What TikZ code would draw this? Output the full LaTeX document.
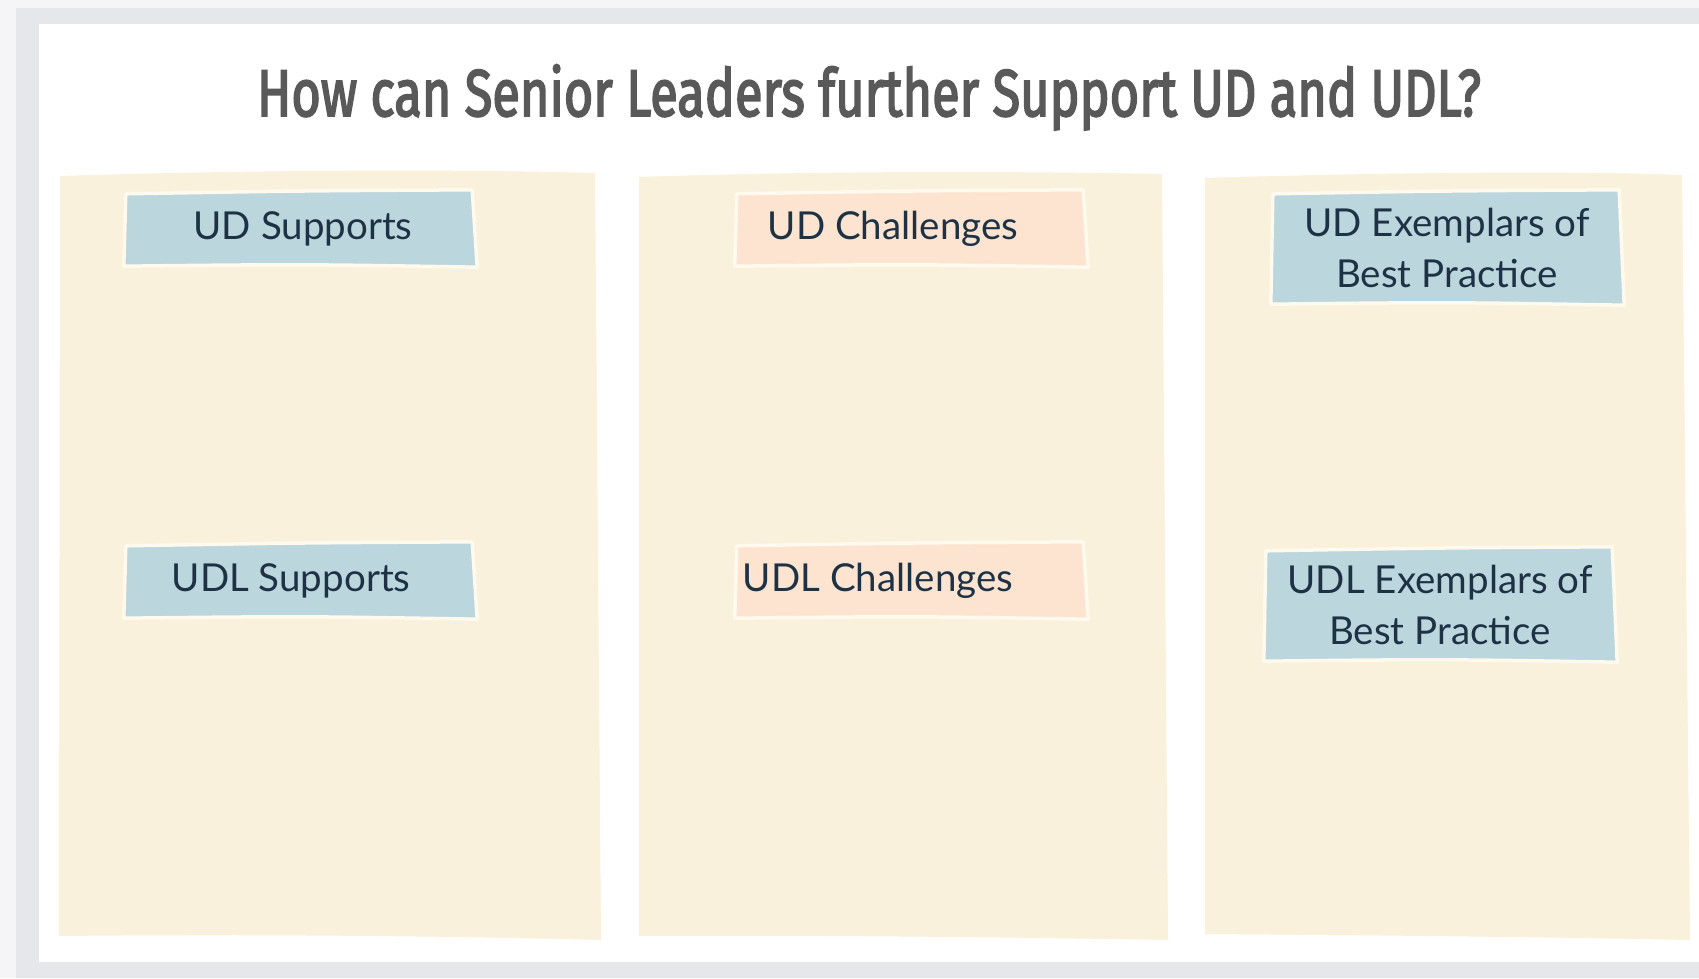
\documentclass[tikz,border=0pt]{standalone}
\usepackage{fontspec}
\usepackage{graphicx}
\newfontfamily\titlefont{Fira Sans}[FakeBold=3]
\newfontfamily\labfont{Lato}
\definecolor{pagebg}{HTML}{F5F5F7}
\definecolor{framegrey}{HTML}{E6E7EA}
\definecolor{colfill}{HTML}{FAF1DC}
\definecolor{boxblue}{HTML}{BCD6DD}
\definecolor{boxpeach}{HTML}{FDE4D0}
\definecolor{creamline}{HTML}{FFF9EE}
\definecolor{titlegrey}{HTML}{595959}
\definecolor{labink}{HTML}{1E3246}
\pgfdeclarelayer{bg}
\pgfdeclarelayer{boxes}
\pgfsetlayers{bg,boxes,main}
\newcommand\wobbox[2]{%
  \begin{pgfonlayer}{boxes}
  \filldraw[fill=#2, draw=creamline, line width=3.5pt, line join=round]
    ([shift={(2,2)}]#1.north west)
    .. controls ([shift={(0,-1)}]#1.north) .. ([shift={(-4,-2)}]#1.north east)
    .. controls ([shift={(-1,0)}]#1.east) .. ([shift={(1,1)}]#1.south east)
    .. controls ([shift={(0,-2)}]#1.south) .. ([shift={(0,0)}]#1.south west)
    .. controls ([shift={(1,0)}]#1.west) .. cycle;
  \end{pgfonlayer}}
\begin{document}
\begin{tikzpicture}[x=1pt,y=-1pt,
  lab/.style={inner sep=0pt, align=center, text=labink,
    font=\labfont\fontsize{38.5}{51}\selectfont},
  onebox/.style={inner sep=0pt, minimum width=352pt, minimum height=74pt},
  twobox/.style={inner sep=0pt, minimum width=352pt, minimum height=112pt}]
\useasboundingbox (0,0) rectangle (1699,978);
\begin{pgfonlayer}{bg}
  \fill[pagebg] (0,0) rectangle (1699,978);
  \fill[framegrey] (16,8) rectangle (1699,978);
  \fill[white] (39,24) rectangle (1699,962);
  % columns
  \fill[colfill] (60,176) .. controls (250,170) and (450,169) .. (595,173)
     -- (601,940) .. controls (450,936) and (250,934) .. (59,936) -- cycle;
  \fill[colfill] (639,177) .. controls (820,171) and (1000,171) .. (1162,174)
     -- (1168,940) .. controls (1000,937) and (800,935) .. (639,936) -- cycle;
  \fill[colfill] (1205,178) .. controls (1400,172) and (1580,171) .. (1682,175)
     -- (1690,940) .. controls (1550,937) and (1350,935) .. (1205,934) -- cycle;
\end{pgfonlayer}

\node[anchor=base, text=titlegrey] (title) at (869,116)
  {\resizebox{1224pt}{\height}{\titlefont\fontsize{66}{70}\selectfont How can Senior Leaders further Support UD and UDL?}};

\node[onebox] (uds)  at (300,229) {};
\node[onebox] (udls) at (300,581) {};
\node[onebox] (udc)  at (911,229) {};
\node[onebox] (udlc) at (911,581) {};
\node[twobox] (ude)  at (1447,248) {};
\node[twobox] (udle) at (1440,605) {};

\node[lab] (udst)  at ([xshift=3pt]uds.center)   {UD Supports};
\node[lab] (udlst) at ([xshift=-9pt]udls.center) {UDL Supports};
\node[lab] (udct)  at ([xshift=-18pt]udc.center) {UD Challenges};
\node[lab] (udlct) at ([xshift=-33pt]udlc.center) {UDL Challenges};
\node[lab] (udet)  at (ude.center)  {UD Exemplars of\\Best Practice};
\node[lab] (udlet) at (udle.center) {UDL Exemplars of\\Best Practice};

\wobbox{uds}{boxblue}
\wobbox{udls}{boxblue}
\wobbox{udc}{boxpeach}
\wobbox{udlc}{boxpeach}
\wobbox{ude}{boxblue}
\wobbox{udle}{boxblue}
\end{tikzpicture}
\end{document}
